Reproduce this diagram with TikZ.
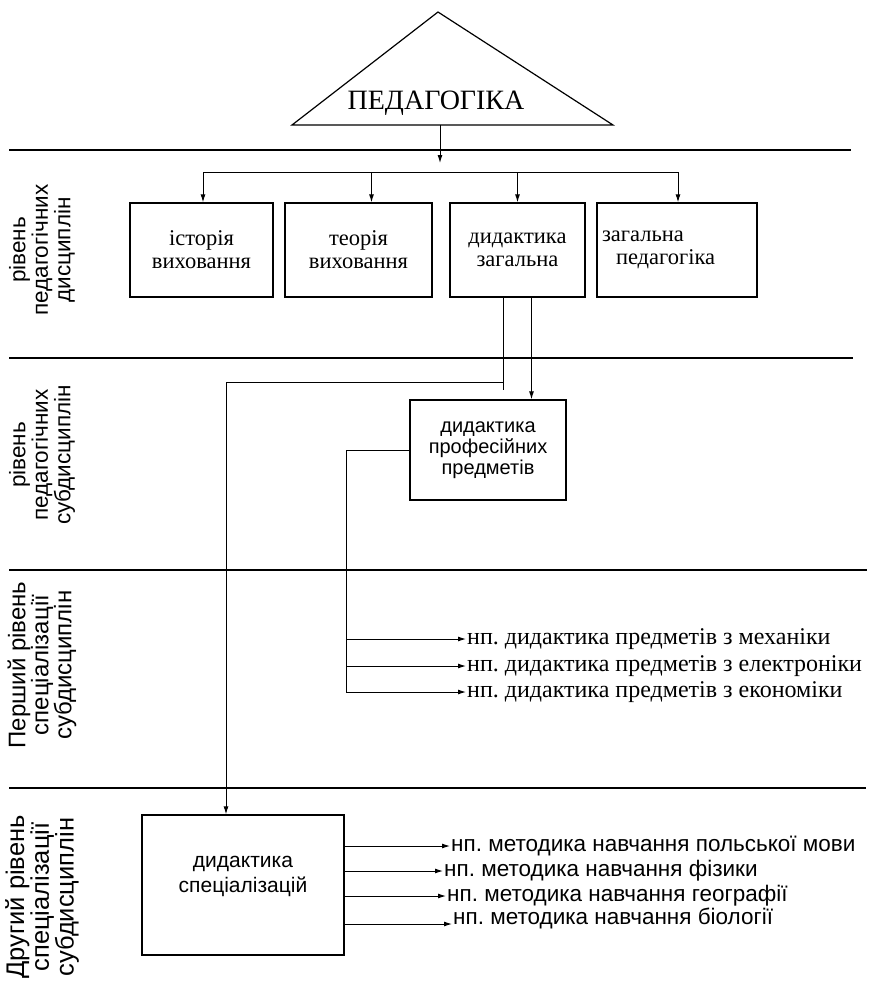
\documentclass[tikz,border=0pt]{standalone}
\usepackage{fontspec}
\setmainfont{Liberation Serif}
\setsansfont{Liberation Sans}
\usetikzlibrary{positioning,arrows.meta}

\begin{document}
\begin{tikzpicture}[x=1pt, y=-1pt,
  disc/.style={draw, line width=1.3pt, inner sep=2pt, align=center,
               minimum height=94pt, font=\fontsize{22.5}{23}\selectfont},
  subd/.style={draw, line width=1.3pt, inner sep=2pt, align=center,
               font=\sffamily\fontsize{20}{21}\selectfont},
  lvl/.style={rotate=90, align=center, inner sep=0pt,
              font=\sffamily\fontsize{22.5}{22.5}\selectfont},
  mtext/.style={anchor=west, inner sep=1pt, font=\fontsize{24}{26}\selectfont},
  stext/.style={anchor=west, inner sep=1pt, font=\sffamily\fontsize{22.5}{24}\selectfont},
  ln/.style={line width=1pt},
  sepline/.style={line width=1.6pt},
  arr/.style={-{Latex[length=8pt,width=5pt]}, line width=1pt}
]
\useasboundingbox (0,0) rectangle (876,1005);

%% Level separators
\foreach \y/\e in {150/851, 358/853, 570/867, 788/866}
  \draw[sepline] (9,\y) -- (\e,\y);

%% Level labels (left margin)
\node[lvl] (lv1) at (42,250) {рівень\\педагогічних\\дисциплін};
\node[lvl] (lv2) at (42,455) {рівень\\педагогічних\\субдисциплін};
\node[lvl, font=\sffamily\fontsize{24}{23}\selectfont] (lv3) at (42,665)
  {Перший рівень\\спеціалізації\\субдисциплін};
\node[lvl, font=\sffamily\fontsize{25.5}{23}\selectfont] (lv4) at (42,897)
  {Другий рівень\\спеціалізації\\субдисциплін};

%% Top: pedagogy triangle
\draw[line width=1.2pt] (438,12) -- (292,125) -- (613,125) -- cycle;
\node[font=\fontsize{28}{30}\selectfont] (ped) at (436,103) {ПЕДАГОГІКА};
\coordinate (pedbase) at (440,125);
\coordinate (hubtip) at (440,163);
\draw[arr] (pedbase) -- (hubtip);

%% Pedagogical disciplines
\node[disc, minimum width=143pt] (b1) at (201.5,250) {історія\\виховання};
\node[disc, minimum width=147pt] (b2) at (358.5,250) {теорія\\виховання};
\node[disc, minimum width=135pt] (b3) at (517.5,250) {дидактика\\загальна};
\node[disc, minimum width=160pt, align=left, text width=150pt] (b4) at (677,250)
  {загальна\\\hspace*{14pt}педагогіка};

\coordinate (dl) at (203,172);
\coordinate (dr) at (678,172);
\draw[ln] (dl) -- (dr);
\draw[arr] (dl) -- (dl |- b1.north);
\draw[arr] ([xshift=13pt]b2.north |- dl) -- ([xshift=13pt]b2.north);
\draw[arr] (b3.north |- dl) -- (b3.north);
\draw[arr] (dr) -- (dr |- b4.north);

%% Pedagogical subdisciplines
\node[subd, minimum width=156pt, minimum height=100pt] (b5) at (488,450)
  {дидактика\\професійних\\предметів};
\draw[arr] ([xshift=14pt]b3.south) -- ([xshift=14pt]b3.south |- b5.north);

\coordinate (tee) at (503,390);
\coordinate (jn) at (226,382);
\draw[ln] (b3.south -| tee) -- (tee);
\draw[ln] (tee |- jn) -- (jn);

%% First specialisation level
\node[mtext] (m1) at (466,639) {нп.\ дидактика предметів з механіки};
\node[mtext] (m2) at (466,666) {нп.\ дидактика предметів з електроніки};
\node[mtext] (m3) at (466,692) {нп.\ дидактика предметів з економіки};

\coordinate (br) at (346,692);
\draw[ln] (b5.west) -- (b5.west -| br) -- (br);
\draw[arr] (br |- m1) -- (m1.west);
\draw[arr] (br |- m2) -- (m2.west);
\draw[arr] (br |- m3) -- (m3.west);

%% Second specialisation level
\node[subd, font=\sffamily\fontsize{21}{25}\selectfont,
      minimum width=202pt, minimum height=140pt] (b6) at (243,885)
  {дидактика\\спеціалізацій\\[-4pt]\mbox{}};
\draw[arr] (jn) -- (jn |- b6.north);

\node[stext] (s1) at (450,846) {нп.\ методика навчання польської мови};
\node[stext] (s2) at (443,871) {нп.\ методика навчання фізики};
\node[stext] (s3) at (446,896) {нп.\ методика навчання географії};
\node[stext] (s4) at (452,918) {нп.\ методика навчання біології};

\draw[arr] (b6.east |- s1) -- (s1.west);
\draw[arr] (b6.east |- s2) -- (s2.west);
\draw[arr] (b6.east |- s3) -- (s3.west);
\draw[arr] ([yshift=-6pt]b6.east |- s4) -- ([yshift=-6pt]s4.west);
\end{tikzpicture}
\end{document}
